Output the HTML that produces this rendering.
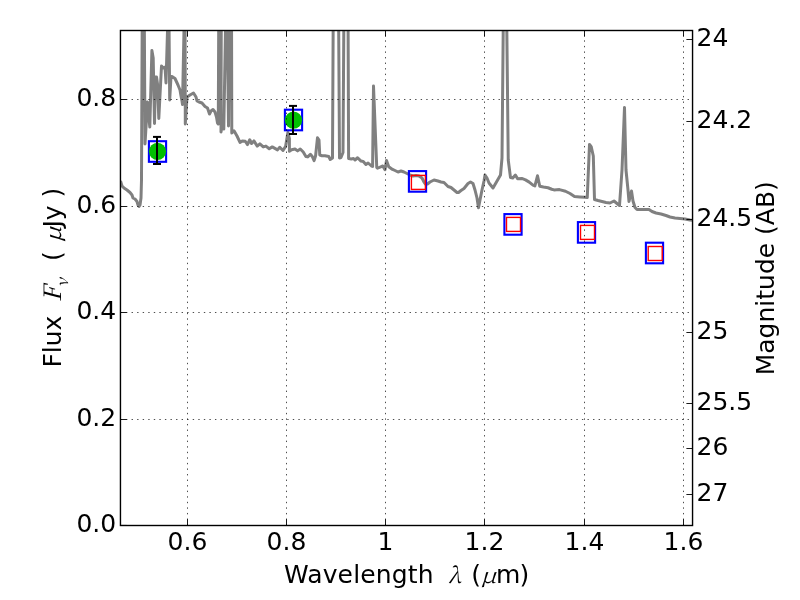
<!DOCTYPE html>
<html><head><meta charset="utf-8"><style>
html,body{margin:0;padding:0;background:#fff;}
svg{display:block;}
text{font-family:"DejaVu Sans","Liberation Sans",sans-serif;font-size:25px;fill:#000;}
.mi{font-family:"Noto Serif CJK SC","Liberation Serif",serif;font-style:italic;}
</style></head><body>
<svg width="800" height="600" viewBox="0 0 800 600">
<defs><clipPath id="ax"><rect x="120.5" y="30.5" width="572.1" height="495.0"/></clipPath></defs>
<rect width="800" height="600" fill="#fff"/>
<g clip-path="url(#ax)"><polyline points="120.5,181 122,186 124,188 127,190 130,192.5 132,195 133,198 135,199 137,201.5 138,205 139,206.5 140,205 141,198 141.5,180 142.3,0 144.2,0 145,144 147.5,102 149.8,127 151.9,50.5 153.2,58 154.5,123.5 155.5,77 156.5,77 157.5,84 158.8,118.5 161.5,66 163,68 165,67 166,83 168.4,0 168.8,0 169.7,100 171,76.5 172,76.5 175,78.5 178,85 180,90 181,96 182,101 182.5,104.5 184.6,0 185,0 185.3,124 187,97 190,95 193.5,93 196,97 197,101 199,102 202,103 205,106.5 207.5,108 209.5,114 211,111 213,109.5 215,112 216.5,117 217.5,123 218.3,124 218.8,0 221.3,0 221,132 222.3,124 223.8,129 226,0 227,0 228.5,126 229.5,0 231.5,0 231.8,133 234,130.75 237,136 240,142.4 242.25,140.9 245.25,141.25 247.5,144.6 249.75,139.75 251.6,143.5 253.9,140.9 257.25,146.1 259.9,143.9 263.25,146.9 265.9,146.1 269.25,148.75 272.25,146.9 277.5,149.9 279.75,147.25 283,150.5 285.6,146.4 287.9,132.5 289.4,138.5 289.4,151.25 291.6,149.75 295,149 297.6,150.9 300.25,149 303.25,152 305.9,156.5 307.75,156.9 310.4,154.25 312.25,156.5 314.1,160.6 315.6,155.75 317.5,137.75 319,140 319.75,155 322,155.75 325,155.75 328.75,156.5 330.25,159.5 332.5,158 333.3,0 338.5,0 339.5,158 341,157.5 343,152.5 344,0 348,0 348.6,158.5 351.25,158.9 353.5,158.5 355,160 357.6,157.75 361,161.1 363.25,161.5 365.9,164.5 368.1,163 371.5,166 372.6,166.4 373.5,86 376.75,167.5 377.5,168.25 381.25,166.6 382.75,166 385,169.75 386.5,160.4 388.75,166.75 392.5,169.4 395,170.5 398,172 401,171 404,172 407,173.5 410,175 413,176 416,175.5 419,176 422,178 424,182 425.5,184 427.5,184 430,182 434,180 438,181 441,182 444,182.5 446,184.5 448,186.5 451,187.5 454,190 457,192.5 458.5,192.5 461,190.5 464,188.5 466,186 468,183.5 470.5,182 473,183.5 475,190 477,198 478.5,207.8 480,200 482,190 484,181 485,175 487,178 489,183 493,188 500.5,175 502,158 503.5,0 506.5,0 508.25,160 510.5,177.6 512.75,178 515.4,175 517.6,178.75 521.75,178.4 525.5,179.9 529.25,182.1 533,185.1 534.9,185.9 537.5,175.75 539.75,186.25 543.5,187 548,187.75 551.75,189.25 554,189.9 559.5,189.6 565.5,191.25 570,193.5 574.5,196.5 579.75,196.9 585,197.25 587.25,197.6 589.5,144.5 591.3,147 593.3,156 594.5,199.5 598,200.5 602,201.5 606,202.5 610,203 614,201 617,203.5 619.5,205.5 622,170 624.5,107.5 626,170 628,190 629,201.5 631.5,191 633,201 635,207.5 637,209.5 640,209.5 645,209.5 649,209.5 652,211.5 656,213 661,214 666,215.5 670,217 675,218 680,218.5 685,219 690,220 695,220.5" fill="none" stroke="#808080" stroke-width="3" stroke-linejoin="round" stroke-linecap="butt"/></g>
<rect x="148.9" y="141.2" width="17.2" height="20.6" fill="none" stroke="#0000ff" stroke-width="2.1"/><rect x="284.9" y="109.7" width="17.2" height="20.6" fill="none" stroke="#0000ff" stroke-width="2.1"/><rect x="408.9" y="171.1" width="17.2" height="20.6" fill="none" stroke="#0000ff" stroke-width="2.1"/><rect x="504.4" y="214.1" width="17.2" height="20.6" fill="none" stroke="#0000ff" stroke-width="2.1"/><rect x="577.9" y="222.1" width="17.2" height="20.6" fill="none" stroke="#0000ff" stroke-width="2.1"/><rect x="645.9" y="242.7" width="17.2" height="20.6" fill="none" stroke="#0000ff" stroke-width="2.1"/><circle cx="157.5" cy="151.3" r="8.6" fill="#00bf00"/><circle cx="293.5" cy="120.2" r="8.6" fill="#00bf00"/><rect x="411.4" y="175.4" width="14" height="14" fill="none" stroke="#ff0000" stroke-width="1.4"/><rect x="506.5" y="217.4" width="14" height="14" fill="none" stroke="#ff0000" stroke-width="1.4"/><rect x="580.5" y="225.4" width="14" height="14" fill="none" stroke="#ff0000" stroke-width="1.4"/><rect x="648.2" y="246.5" width="14" height="14" fill="none" stroke="#ff0000" stroke-width="1.4"/><line x1="157" y1="136.9" x2="157" y2="164" stroke="#000" stroke-width="2"/><line x1="153" y1="136.9" x2="161" y2="136.9" stroke="#000" stroke-width="2"/><line x1="153" y1="164" x2="161" y2="164" stroke="#000" stroke-width="2"/><line x1="293" y1="105.9" x2="293" y2="134" stroke="#000" stroke-width="2"/><line x1="289" y1="105.9" x2="297" y2="105.9" stroke="#000" stroke-width="2"/><line x1="289" y1="134" x2="297" y2="134" stroke="#000" stroke-width="2"/>
<g stroke="#000" stroke-width="0.7" stroke-dasharray="1.39 4.17" fill="none"><line x1="187.5" y1="525.45" x2="187.5" y2="30.5"/><line x1="286.5" y1="525.45" x2="286.5" y2="30.5"/><line x1="385.5" y1="525.45" x2="385.5" y2="30.5"/><line x1="484.5" y1="525.45" x2="484.5" y2="30.5"/><line x1="584.5" y1="525.45" x2="584.5" y2="30.5"/><line x1="683.5" y1="525.45" x2="683.5" y2="30.5"/><line x1="120.45" y1="419.5" x2="692.6" y2="419.5"/><line x1="120.45" y1="312.5" x2="692.6" y2="312.5"/><line x1="120.45" y1="206.5" x2="692.6" y2="206.5"/><line x1="120.45" y1="99.5" x2="692.6" y2="99.5"/></g>
<g stroke="#000" stroke-width="0.9"><line x1="187.5" y1="525.45" x2="187.5" y2="519.2"/><line x1="187.5" y1="30.5" x2="187.5" y2="36.7"/><line x1="286.5" y1="525.45" x2="286.5" y2="519.2"/><line x1="286.5" y1="30.5" x2="286.5" y2="36.7"/><line x1="385.5" y1="525.45" x2="385.5" y2="519.2"/><line x1="385.5" y1="30.5" x2="385.5" y2="36.7"/><line x1="484.5" y1="525.45" x2="484.5" y2="519.2"/><line x1="484.5" y1="30.5" x2="484.5" y2="36.7"/><line x1="584.5" y1="525.45" x2="584.5" y2="519.2"/><line x1="584.5" y1="30.5" x2="584.5" y2="36.7"/><line x1="683.5" y1="525.45" x2="683.5" y2="519.2"/><line x1="683.5" y1="30.5" x2="683.5" y2="36.7"/><line x1="120.45" y1="525.45" x2="126.7" y2="525.45"/><line x1="120.45" y1="419.5" x2="126.7" y2="419.5"/><line x1="120.45" y1="312.5" x2="126.7" y2="312.5"/><line x1="120.45" y1="206.5" x2="126.7" y2="206.5"/><line x1="120.45" y1="99.5" x2="126.7" y2="99.5"/><line x1="692.6" y1="39.5" x2="686.4" y2="39.5"/><line x1="692.6" y1="121.5" x2="686.4" y2="121.5"/><line x1="692.6" y1="219.5" x2="686.4" y2="219.5"/><line x1="692.6" y1="332.5" x2="686.4" y2="332.5"/><line x1="692.6" y1="403.5" x2="686.4" y2="403.5"/><line x1="692.6" y1="448.5" x2="686.4" y2="448.5"/><line x1="692.6" y1="494.5" x2="686.4" y2="494.5"/></g>
<rect x="120.45" y="30.5" width="572.1" height="495.0" fill="none" stroke="#000" stroke-width="1.4"/>
<text x="187.5" y="550" text-anchor="middle">0.6</text><text x="286.5" y="550" text-anchor="middle">0.8</text><text x="385.5" y="550" text-anchor="middle">1</text><text x="484.5" y="550" text-anchor="middle">1.2</text><text x="584.5" y="550" text-anchor="middle">1.4</text><text x="683.5" y="550" text-anchor="middle">1.6</text><text x="116.2" y="531.9" text-anchor="end">0.0</text><text x="116.2" y="425.9" text-anchor="end">0.2</text><text x="116.2" y="318.9" text-anchor="end">0.4</text><text x="116.2" y="212.9" text-anchor="end">0.6</text><text x="116.2" y="105.9" text-anchor="end">0.8</text><text x="696.5" y="46.1">24</text><text x="696.5" y="128.1">24.2</text><text x="696.5" y="226.1">24.5</text><text x="696.5" y="339.1">25</text><text x="696.5" y="410.1">25.5</text><text x="696.5" y="455.1">26</text><text x="696.5" y="501.1">27</text>
<text y="583"><tspan x="284" letter-spacing="0.13">Wavelength</tspan><tspan x="471.2">(</tspan><tspan x="495.9">m</tspan><tspan x="519.6">)</tspan></text><text class="mi" style="font-size:22px" transform="translate(448.3,583)">λ</text><text class="mi" transform="translate(480.6,583) scale(1,0.84)">μ</text>
<g transform="translate(60.8,367.6) rotate(-90)"><text><tspan x="0">Flux</tspan><tspan x="106.7">(</tspan><tspan x="140.1">Jy</tspan><tspan x="170">)</tspan></text><text class="mi" transform="translate(65.5,0) scale(1,0.96)">F</text><text class="mi" style="font-size:17.3px" transform="translate(80.2,7) scale(1,0.92)">ν</text><text class="mi" transform="translate(125.2,0) scale(1,0.84)">μ</text></g>
<text transform="translate(774.0,375.3) rotate(-90)">Magnitude (AB)</text>
</svg>
</body></html>
